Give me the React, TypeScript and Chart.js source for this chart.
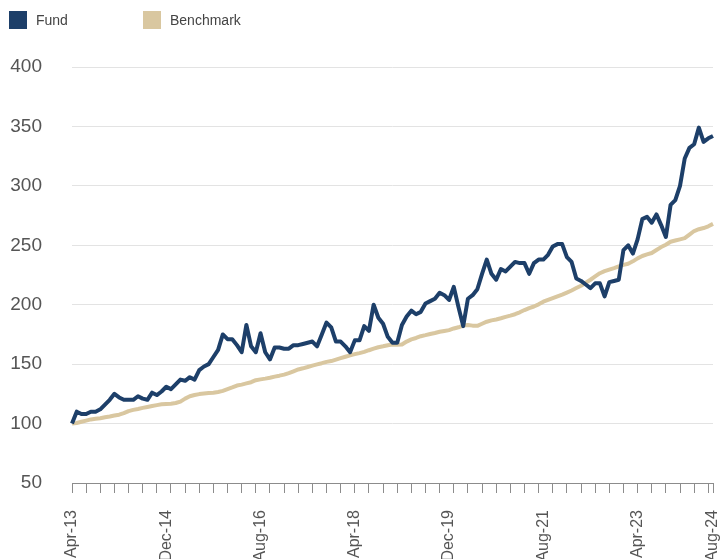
import React, { useEffect, useRef } from "react";
import { Chart, registerables } from "chart.js";

Chart.register(...registerables);

const START_YEAR = 2013;
const START_MONTH = 3; // April (0-based)
const MONTH_NAMES = ["Jan", "Feb", "Mar", "Apr", "May", "Jun", "Jul", "Aug", "Sep", "Oct", "Nov", "Dec"];

const fundValues = [
  100, 110, 108, 108, 110, 110, 112, 116, 120, 125,
  122, 120, 120, 120, 123, 121, 120, 126, 124, 127,
  131, 129, 133, 137, 136, 139, 137, 145, 148, 150,
  156, 162, 175, 171, 171, 166, 160, 183, 165, 160,
  176, 160, 154, 164, 164, 163, 163, 166, 166, 167,
  168, 169, 165, 175, 185, 181, 169, 169, 165, 160,
  170, 170, 182, 178, 200, 189, 184, 173, 168, 168,
  183, 190, 195, 192, 194, 201, 203, 205, 210, 208,
  204, 215, 198, 182, 205, 208, 213, 226, 238, 226,
  221, 230, 228, 232, 236, 235, 235, 226, 235, 238,
  238, 242, 249, 251, 251, 240, 236, 222, 220, 217,
  214, 218, 218, 207, 219, 220, 221, 246, 250, 243,
  255, 272, 274, 269, 276, 267, 257, 284, 288, 300,
  323, 332, 335, 349, 337, 340, 342,
];

const benchmarkValues = [
  100, 100.5, 101.5, 102.5, 103.5, 104, 104.5, 105.3, 106, 106.8,
  107.5, 108.8, 110.5, 111.5, 112.3, 113.2, 114, 114.8, 115.5, 116.2,
  116.5, 116.7, 117.3, 118.5, 121, 123, 124, 124.8, 125.3, 125.8,
  126, 126.6, 127.5, 129, 130.4, 132, 132.8, 133.8, 134.8, 136.5,
  137.2, 137.8, 138.5, 139.5, 140.3, 141.2, 142.5, 144, 145.5, 146.5,
  147.6, 148.8, 149.8, 150.8, 151.9, 152.6, 153.8, 155, 156.2, 157.4,
  158.4, 159.3, 160.3, 161.7, 163, 164.2, 165, 165.9, 166.5, 166.3,
  166.5, 169, 170.8, 172, 173.5, 174.4, 175.4, 176.2, 177.2, 177.9,
  178.6, 180, 181, 182.5, 183, 182.4, 182.2, 184, 185.7, 186.8,
  187.6, 188.6, 189.8, 190.8, 192, 193.6, 195.5, 197.2, 198.5, 200.3,
  202.5, 204, 205.5, 207, 208.5, 210.2, 212, 214, 216, 218.5,
  221, 223.8, 226.5, 228.2, 229.5, 230.8, 232.2, 233.5, 234.5, 236.5,
  239, 241, 242.3, 243.5, 246, 248.5, 250.5, 253, 254, 255,
  256, 259, 262, 263.5, 264.5, 266, 268,
];

const shownTickLabels = ["Apr-13", "Dec-14", "Aug-16", "Apr-18", "Dec-19", "Aug-21", "Apr-23", "Aug-24"];
const yTicks = [50, 100, 150, 200, 250, 300, 350, 400];

const seriesNames = ["Fund", "Benchmark"];
const seriesColors = ["#1d3f69", "#d9c7a0"];

const monthLabels: string[] = fundValues.map((_, i) => {
  const m = START_MONTH + i;
  const year = START_YEAR + Math.floor(m / 12);
  return MONTH_NAMES[m % 12] + "-" + String(year % 100).padStart(2, "0");
});

const FONT = "'Liberation Sans', Arial, Helvetica, sans-serif";

export default function App() {
  const canvasRef = useRef<HTMLCanvasElement | null>(null);

  useEffect(() => {
    if (!canvasRef.current) return;
    const last = monthLabels.length - 1;
    const chart = new Chart(canvasRef.current, {
      type: "line",
      data: {
        labels: monthLabels,
        datasets: [
          {
            label: seriesNames[0],
            data: fundValues,
            borderColor: seriesColors[0],
            backgroundColor: seriesColors[0],
            borderWidth: 4,
            pointRadius: 0,
            tension: 0,
            borderJoinStyle: "round",
          },
          {
            label: seriesNames[1],
            data: benchmarkValues,
            borderColor: seriesColors[1],
            backgroundColor: seriesColors[1],
            borderWidth: 4,
            pointRadius: 0,
            tension: 0,
            borderJoinStyle: "round",
          },
        ],
      },
      options: {
        animation: false,
        responsive: true,
        maintainAspectRatio: false,
        layout: { padding: { top: 67, right: 11, left: 0, bottom: 0 } },
        plugins: { legend: { display: false }, tooltip: { enabled: false } },
        scales: {
          x: {
            type: "category",
            offset: false,
            afterFit: (scale: any) => {
              scale.height = 117;
              scale.paddingRight = 0;
              scale.paddingLeft = 0;
            },
            border: { display: true, color: "#8c8c8c", width: 1 },
            grid: {
              drawOnChartArea: false,
              drawTicks: true,
              tickLength: 10,
              color: (ctx: any) =>
                ctx.index % 3 === 0 || ctx.index === last ? "#8c8c8c" : "rgba(0,0,0,0)",
            },
            ticks: {
              autoSkip: false,
              maxRotation: 90,
              minRotation: 90,
              padding: 17,
              color: "#555555",
              font: { family: FONT, size: 16 },
              callback: (_v: any, index: number) => {
                const lbl = monthLabels[index];
                return shownTickLabels.includes(lbl) ? lbl : "";
              },
            },
          },
          y: {
            min: yTicks[0],
            max: yTicks[yTicks.length - 1],
            afterFit: (scale: any) => {
              scale.width = 72;
            },
            afterBuildTicks: (scale: any) => {
              scale.ticks = yTicks.map((v) => ({ value: v }));
            },
            border: { display: false },
            grid: { color: "#e3e3e3", lineWidth: 1, drawTicks: false },
            ticks: {
              padding: 30,
              color: "#555555",
              font: { family: FONT, size: 19 },
            },
          },
        },
      },
    });
    return () => chart.destroy();
  }, []);

  const legendItem = (i: number, left: number) => (
    <div
      key={i}
      style={{
        position: "absolute",
        left,
        top: 11,
        display: "flex",
        alignItems: "center",
        fontFamily: FONT,
        fontSize: 14,
        color: "#444444",
      }}
    >
      <span
        style={{
          display: "inline-block",
          width: 18,
          height: 18,
          background: seriesColors[i],
          marginRight: 9,
        }}
      />
      <span>{seriesNames[i]}</span>
    </div>
  );

  return (
    <div
      style={{
        position: "absolute",
        left: 0,
        top: 0,
        width: 724,
        height: 559,
        overflow: "hidden",
        background: "#ffffff",
      }}
    >
      <div style={{ position: "relative", width: 724, height: 600 }}>
        <canvas ref={canvasRef} />
      </div>
      {legendItem(0, 9)}
      {legendItem(1, 143)}
    </div>
  );
}
